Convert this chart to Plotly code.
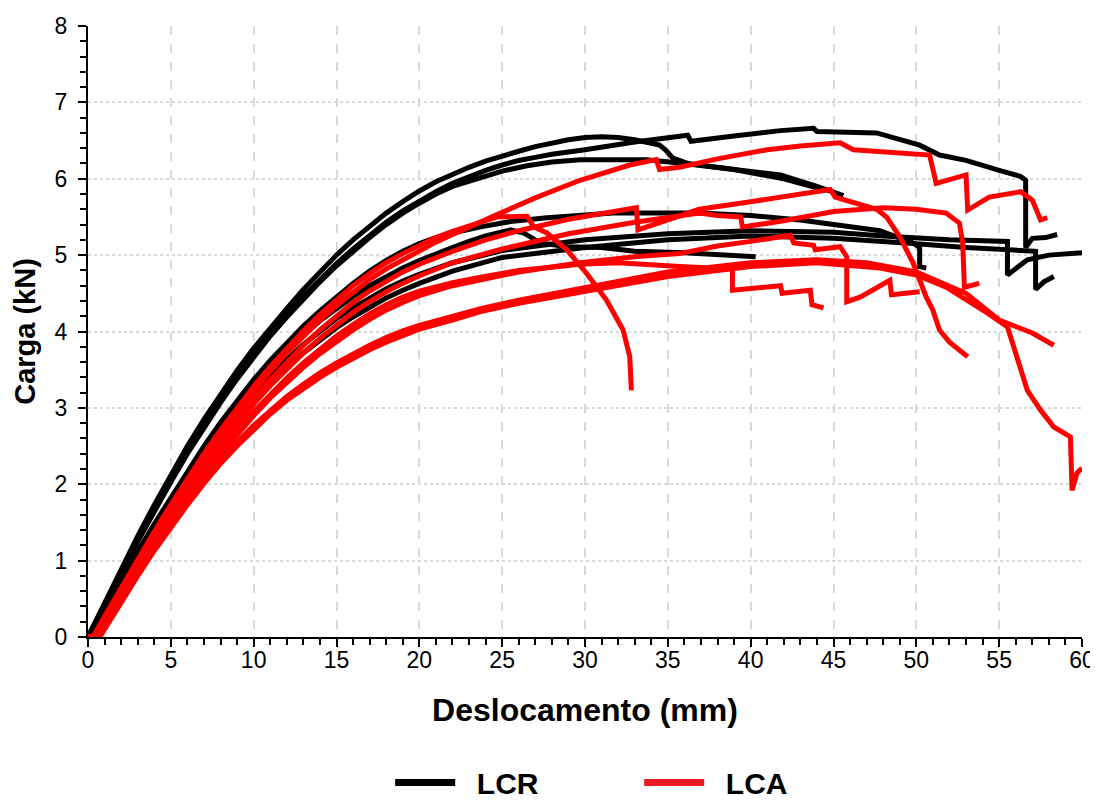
import plotly.graph_objects as go

# ---------------- data (Deslocamento mm, Carga kN) ----------------
# LCR (black)
lcr1_x = [0, 1, 2, 3, 4, 5, 6, 7, 8, 9, 10, 11, 12, 13, 14, 15, 16, 17, 18, 19, 20, 21, 22, 23, 24, 25, 26, 27, 28, 29, 30, 31, 32, 33, 34.5, 34.9, 35.3, 36.2, 39, 41.8, 44, 45.6]
lcr1_y = [0, 0.45, 0.89, 1.32, 1.73, 2.13, 2.5, 2.85, 3.18, 3.49, 3.78, 4.05, 4.3, 4.55, 4.78, 5.0, 5.2, 5.38, 5.55, 5.7, 5.84, 5.96, 6.06, 6.15, 6.23, 6.3, 6.36, 6.42, 6.47, 6.51, 6.54, 6.55, 6.54, 6.51, 6.44, 6.37, 6.27, 6.2, 6.12, 6.05, 5.9, 5.78]

lcr2_x = [0, 1, 2, 3, 4, 5, 6, 7, 8, 9, 10, 11, 12, 13, 14, 15, 16, 17, 18, 19, 20, 21, 22, 23, 24, 25, 26, 27, 28, 30, 33, 36.2, 36.4, 39, 41.8, 43.8, 44, 47.6, 50.2, 51.4, 53, 55, 56.3, 56.6, 56.6, 57, 57.8, 58.5]
lcr2_y = [0, 0.43, 0.85, 1.26, 1.66, 2.05, 2.42, 2.77, 3.1, 3.41, 3.7, 3.97, 4.22, 4.46, 4.68, 4.89, 5.08, 5.26, 5.43, 5.58, 5.71, 5.83, 5.94, 6.03, 6.11, 6.18, 6.24, 6.28, 6.32, 6.38, 6.48, 6.57, 6.49, 6.56, 6.63, 6.66, 6.62, 6.6, 6.44, 6.31, 6.24, 6.11, 6.03, 5.98, 5.1, 5.22, 5.23, 5.27]

lcr3_x = [0, 1, 2, 3, 4, 5, 6, 7, 8, 9, 10, 11, 12, 13, 14, 15, 16, 17, 18, 19, 20, 21, 22, 23, 24, 25, 26.5, 28, 29.7, 33.7, 36, 39, 42, 44.5]
lcr3_y = [0, 0.43, 0.85, 1.25, 1.65, 2.03, 2.4, 2.75, 3.07, 3.38, 3.67, 3.94, 4.19, 4.43, 4.65, 4.86, 5.05, 5.23, 5.4, 5.55, 5.68, 5.8, 5.9, 5.97, 6.04, 6.1, 6.17, 6.22, 6.25, 6.25, 6.2, 6.12, 6.0, 5.85]

lcr4_x = [0, 1, 2, 3, 4, 5, 6, 7, 8, 9, 10, 11, 12, 13, 14, 15, 16, 17, 18, 19, 20, 21, 22, 23.7, 25.5, 27.7, 31.7, 36.9, 40, 43, 46, 47.8, 49.8, 50.2, 50.2, 50.6]
lcr4_y = [0, 0.38, 0.75, 1.12, 1.48, 1.83, 2.17, 2.5, 2.81, 3.1, 3.37, 3.62, 3.85, 4.07, 4.27, 4.46, 4.63, 4.79, 4.93, 5.05, 5.15, 5.23, 5.29, 5.37, 5.44, 5.49, 5.55, 5.55, 5.52, 5.46, 5.38, 5.32, 5.16, 5.1, 4.85, 4.83]

lcr5_x = [0, 1, 2, 3, 4, 5, 6, 7, 8, 9, 10, 11, 12, 13, 14, 15, 16, 17, 18, 19, 20, 21, 22, 23, 24, 25.5, 26.3, 27.3, 28.9, 31, 33, 36, 38.5, 40.3]
lcr5_y = [0, 0.37, 0.74, 1.1, 1.45, 1.79, 2.12, 2.44, 2.74, 3.02, 3.28, 3.52, 3.74, 3.95, 4.14, 4.31, 4.46, 4.6, 4.72, 4.83, 4.93, 5.02, 5.1, 5.18, 5.25, 5.33, 5.29, 5.16, 5.11, 5.1, 5.05, 5.03, 5.01, 4.98]

lcr6_x = [0, 1, 2, 3, 4, 5, 6, 7, 8, 9, 10, 11, 12, 13, 14, 15, 16, 17, 18, 19, 20, 22, 25, 30, 35, 40, 45, 48, 52, 55.5, 55.5, 56.7, 58, 60]
lcr6_y = [0, 0.37, 0.73, 1.08, 1.42, 1.75, 2.07, 2.38, 2.67, 2.94, 3.19, 3.42, 3.63, 3.83, 4.01, 4.17, 4.31, 4.44, 4.56, 4.66, 4.75, 4.9, 5.06, 5.2, 5.28, 5.32, 5.3, 5.25, 5.2, 5.18, 4.74, 4.94, 5.0, 5.03]

lcr7_x = [0, 1, 2, 3, 4, 5, 6, 7, 8, 9, 10, 11, 12, 13, 14, 15, 16, 17, 18, 19, 20, 22, 25, 30, 35, 40, 45, 50, 53, 57.2, 57.2, 57.7, 58.3]
lcr7_y = [0, 0.36, 0.72, 1.07, 1.4, 1.72, 2.03, 2.33, 2.61, 2.87, 3.11, 3.33, 3.53, 3.72, 3.89, 4.05, 4.19, 4.32, 4.44, 4.54, 4.63, 4.79, 4.97, 5.1, 5.2, 5.25, 5.22, 5.15, 5.1, 5.05, 4.55, 4.65, 4.72]

# LCA (red)
lca1_x = [0, 0.3, 1, 2, 3, 4, 5, 6, 7, 8, 9, 10, 11, 12, 13, 14, 15, 16, 17, 18, 19, 20, 21, 22, 23, 24, 24.7, 26.5, 26.9, 27.7, 28.9, 30.1, 31.3, 32.3, 32.7, 32.8]
lca1_y = [0, 0, 0.27, 0.65, 1.02, 1.38, 1.73, 2.07, 2.4, 2.71, 3.0, 3.28, 3.54, 3.78, 4.01, 4.22, 4.42, 4.6, 4.76, 4.9, 5.02, 5.13, 5.23, 5.31, 5.38, 5.45, 5.5, 5.51, 5.37, 5.29, 5.07, 4.76, 4.41, 4.02, 3.67, 3.23]

lca2_x = [0, 0.3, 1, 2, 3, 4, 5, 6, 7, 8, 9, 10, 11, 12, 13, 14, 15, 16, 17, 18, 19, 20, 21, 22, 23, 24, 24.9, 27, 29.7, 32.7, 34.3, 34.5, 35.7, 38, 41, 43, 45.4, 46.2, 48, 50.8, 51.2, 53, 53.1, 54.4, 56.3, 57, 57.5, 57.9]
lca2_y = [0, 0, 0.26, 0.63, 1.0, 1.36, 1.7, 2.03, 2.35, 2.66, 2.95, 3.22, 3.48, 3.72, 3.94, 4.15, 4.34, 4.52, 4.68, 4.82, 4.94, 5.06, 5.17, 5.27, 5.37, 5.46, 5.55, 5.75, 5.98, 6.18, 6.25, 6.12, 6.15, 6.26, 6.38, 6.43, 6.47, 6.38, 6.35, 6.31, 5.94, 6.05, 5.59, 5.76, 5.83, 5.72, 5.46, 5.49]

lca3_x = [0, 0.4, 1, 2, 3, 4, 5, 6, 7, 8, 9, 10, 11, 12, 13, 14, 15, 16, 17, 18, 19, 20, 22, 24, 26, 29, 31.5, 33.1, 33.2, 34.5, 36.9, 40, 43, 44.8, 45.1, 46.4, 47.6, 48.2, 49, 49.8, 50.6, 51, 51.4, 52, 53.1]
lca3_y = [0, 0, 0.23, 0.6, 0.96, 1.31, 1.65, 1.97, 2.28, 2.58, 2.86, 3.12, 3.37, 3.6, 3.82, 4.02, 4.21, 4.38, 4.53, 4.66, 4.78, 4.88, 5.05, 5.2, 5.32, 5.47, 5.56, 5.62, 5.33, 5.43, 5.6, 5.7, 5.81, 5.86, 5.76, 5.68, 5.6, 5.5, 5.24, 4.9, 4.45, 4.28, 4.02, 3.86, 3.67]

lca4_x = [0, 0.5, 1, 2, 3, 4, 5, 6, 7, 8, 9, 10, 11, 12, 13, 14, 15, 16, 17, 18, 19, 20, 22, 25, 29, 33, 36.9, 38, 39.4, 39.5, 40.5, 42, 45, 48, 50, 51.8, 52.6, 52.8, 52.9, 53.8]
lca4_y = [0, 0, 0.19, 0.56, 0.92, 1.27, 1.6, 1.92, 2.23, 2.52, 2.79, 3.05, 3.29, 3.51, 3.72, 3.91, 4.09, 4.25, 4.39, 4.52, 4.63, 4.73, 4.9, 5.08, 5.28, 5.43, 5.55, 5.52, 5.5, 5.37, 5.4, 5.45, 5.57, 5.62, 5.6, 5.55, 5.42, 5.16, 4.58, 4.63]

lca5_x = [0, 0.6, 1, 2, 3, 4, 5, 6, 7, 8, 9, 10, 11, 12, 13, 14, 15, 16, 17, 18, 19, 20, 22, 23.7, 26, 29.7, 32, 35.7, 38.9, 38.9, 41.8, 41.9, 43.6, 43.7, 44.4]
lca5_y = [0, 0, 0.15, 0.52, 0.88, 1.22, 1.55, 1.86, 2.16, 2.44, 2.7, 2.95, 3.18, 3.39, 3.59, 3.77, 3.94, 4.09, 4.23, 4.35, 4.45, 4.53, 4.64, 4.71, 4.8, 4.88, 4.9, 4.85, 4.82, 4.54, 4.6, 4.5, 4.54, 4.35, 4.31]

lca6_x = [0, 0.6, 1, 2, 3, 4, 5, 6, 7, 8, 9, 10, 11, 12, 13, 14, 15, 16, 17, 18, 19, 20, 22, 23.7, 26, 29.7, 33, 35.7, 38, 40, 42.4, 42.6, 43.8, 43.9, 45.4, 45.8, 45.8, 46.6, 48.4, 48.5, 50.2]
lca6_y = [0, 0, 0.15, 0.51, 0.86, 1.2, 1.52, 1.83, 2.12, 2.39, 2.65, 2.9, 3.13, 3.34, 3.53, 3.71, 3.87, 4.02, 4.16, 4.28, 4.38, 4.47, 4.6, 4.68, 4.78, 4.9, 4.98, 5.02, 5.12, 5.18, 5.26, 5.16, 5.13, 5.07, 5.11, 4.98, 4.39, 4.45, 4.67, 4.48, 4.52]

lca7_x = [0, 0.7, 1, 2, 3, 4, 5, 6, 7, 8, 9, 10, 11, 12, 13, 14, 15, 16, 17, 18, 19, 20, 22, 23.7, 26, 29.7, 35, 40, 44, 47, 50, 53, 55, 57, 58.3]
lca7_y = [0, 0, 0.11, 0.47, 0.82, 1.15, 1.47, 1.77, 2.05, 2.31, 2.55, 2.77, 2.97, 3.15, 3.31, 3.46, 3.59, 3.71, 3.82, 3.92, 4.01, 4.08, 4.2, 4.3, 4.41, 4.56, 4.78, 4.9, 4.94, 4.9, 4.78, 4.5, 4.15, 3.98, 3.82]

lca8_x = [0, 0.7, 1, 2, 3, 4, 5, 6, 7, 8, 9, 10, 11, 12, 13, 14, 15, 16, 17, 18, 19, 20, 22, 23.7, 26, 29.7, 35, 40, 44, 47.8, 50, 51.8, 53.8, 54.3, 55.5, 56.1, 56.7, 57.5, 58.3, 59.3, 59.4, 59.7, 60]
lca8_y = [0, 0, 0.1, 0.46, 0.8, 1.13, 1.44, 1.73, 2.01, 2.27, 2.5, 2.72, 2.92, 3.1, 3.26, 3.4, 3.53, 3.65, 3.76, 3.86, 3.95, 4.03, 4.15, 4.26, 4.37, 4.52, 4.72, 4.85, 4.9, 4.83, 4.74, 4.58, 4.32, 4.24, 4.06, 3.67, 3.23, 2.97, 2.75, 2.62, 1.92, 2.15, 2.21]

lcr_series = [(lcr1_x, lcr1_y), (lcr2_x, lcr2_y), (lcr3_x, lcr3_y), (lcr4_x, lcr4_y),
              (lcr5_x, lcr5_y), (lcr6_x, lcr6_y), (lcr7_x, lcr7_y)]
lca_series = [(lca1_x, lca1_y), (lca2_x, lca2_y), (lca3_x, lca3_y), (lca4_x, lca4_y),
              (lca5_x, lca5_y), (lca6_x, lca6_y), (lca7_x, lca7_y), (lca8_x, lca8_y)]

x_ticks = [0, 5, 10, 15, 20, 25, 30, 35, 40, 45, 50, 55, 60]
y_ticks = [0, 1, 2, 3, 4, 5, 6, 7, 8]
series_names = ["LCR", "LCA"]

BLACK = "#000000"
RED = "#ff0000"
LEG_RED = "#ed1c24"
FONT = "Liberation Sans, Arial, sans-serif"

fig = go.Figure()

for xs, ys in lcr_series:
    fig.add_trace(go.Scatter(x=xs, y=ys, mode="lines", line=dict(color=BLACK, width=5),
                             legendgroup="LCR", showlegend=False, hoverinfo="skip"))
for xs, ys in lca_series:
    fig.add_trace(go.Scatter(x=xs, y=ys, mode="lines", line=dict(color=RED, width=5),
                             legendgroup="LCA", showlegend=False, hoverinfo="skip"))

# legend entries
NB = "\u00a0"
fig.add_trace(go.Scatter(x=[None], y=[None], mode="lines", name=NB * 2 + series_names[0],
                         line=dict(color=BLACK, width=7), legendgroup="LCR"))
fig.add_trace(go.Scatter(x=[None], y=[None], mode="lines", name=NB * 2 + series_names[1],
                         line=dict(color=LEG_RED, width=7), legendgroup="LCA"))

axis_common = dict(
    showline=True, linecolor="black", linewidth=2,
    ticks="outside", ticklen=8, tickwidth=2, tickcolor="black",
    showgrid=True, gridcolor="#d9d9d9", gridwidth=2,
    zeroline=False, mirror=False, automargin=False,
    tickfont=dict(family=FONT, size=23, color="black"),
)

fig.update_xaxes(
    range=[0, 60], tickvals=x_ticks, griddash="dash", ticklabelstandoff=-7,
    minor=dict(dtick=1, ticks="outside", ticklen=6, tickwidth=2, tickcolor="black", showgrid=False),
    title=dict(text="Deslocamento (mm)", font=dict(family=FONT, size=32, color="black", weight="bold"), standoff=27),
    **axis_common,
)
fig.update_yaxes(
    range=[0, 8], tickvals=y_ticks, griddash="dot", ticklabelstandoff=6,
    minor=dict(dtick=0.2, ticks="outside", ticklen=6, tickwidth=2, tickcolor="black", showgrid=False),
    title=dict(text="Carga (kN)", font=dict(family=FONT, size=29, color="black", weight="bold"), standoff=10),
    **axis_common,
)

# the page body adds an 8px offset, so the figure is sized 8px smaller
fig.update_layout(
    width=1090, height=793,
    margin=dict(l=80, r=16, t=18, b=164, autoexpand=False),
    paper_bgcolor="white", plot_bgcolor="white",
    showlegend=True,
    legend=dict(orientation="h", x=0.304, xanchor="left", y=-0.238, yanchor="middle",
                font=dict(family=FONT, size=30, color="black", weight="bold"),
                itemwidth=60, entrywidth=174, traceorder="normal"),
)

fig.write_html("out.html")
